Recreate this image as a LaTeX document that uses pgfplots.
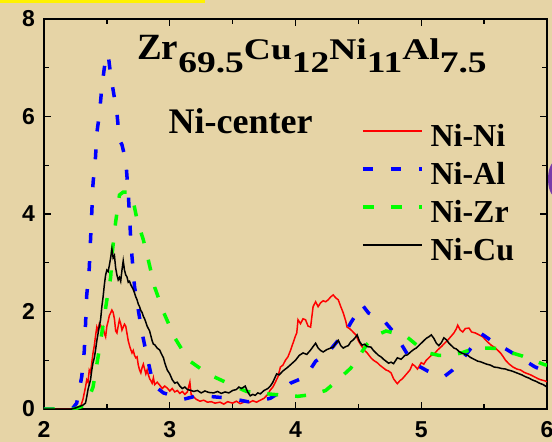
\documentclass[border=0pt]{standalone}
\usepackage{fontspec}
\setmainfont{Liberation Serif}
\setsansfont{Liberation Sans}
\usepackage{pgfplots}
\pgfplotsset{compat=1.18}
\definecolor{parch}{RGB}{230,212,166}
\definecolor{nired}{RGB}{255,0,0}
\definecolor{niblue}{RGB}{0,0,255}
\definecolor{nigreen}{RGB}{0,255,0}
\definecolor{blob}{RGB}{120,60,170}

\pgfplotstableread{
x y
2.00 0
2.26 0
2.29 0.04
2.31 0.2
2.33 0.45
2.34 0.6
2.35 0.55
2.36 0.8
2.37 0.75
2.38 0.95
2.39 1.15
2.40 1.3
2.41 1.5
2.42 1.68
2.43 1.6
2.44 1.75
2.45 1.72
2.46 1.62
2.47 1.68
2.48 1.55
2.49 1.48
2.50 1.7
2.51 1.8
2.52 1.92
2.53 1.97
2.54 2.03
2.55 1.98
2.56 1.85
2.57 1.6
2.58 1.56
2.59 1.7
2.60 1.83
2.61 1.75
2.62 1.62
2.63 1.68
2.64 1.74
2.65 1.7
2.66 1.55
2.67 1.4
2.68 1.3
2.69 1.22
2.70 1.15
2.71 1.2
2.72 1.1
2.73 1.05
2.74 1.07
2.75 0.9
2.76 0.8
2.77 0.74
2.78 0.85
2.79 0.92
2.80 0.82
2.81 0.72
2.82 0.8
2.83 0.7
2.84 0.62
2.85 0.58
2.86 0.53
2.87 0.64
2.88 0.5
2.90 0.55
2.92 0.49
2.94 0.42
2.96 0.47
2.98 0.43
3.00 0.37
3.02 0.42
3.04 0.35
3.06 0.38
3.08 0.32
3.10 0.36
3.12 0.3
3.14 0.35
3.16 0.55
3.17 0.3
3.19 0.25
3.21 0.2
3.24 0.16
3.27 0.18
3.30 0.14
3.33 0.15
3.36 0.12
3.40 0.14
3.43 0.1
3.46 0.15
3.50 0.12
3.53 0.16
3.56 0.11
3.60 0.15
3.63 0.13
3.66 0.17
3.69 0.14
3.72 0.18
3.75 0.22
3.78 0.3
3.80 0.39
3.82 0.45
3.84 0.55
3.86 0.66
3.88 0.86
3.90 0.9
3.92 1.0
3.94 1.07
3.96 1.2
3.98 1.35
4.00 1.5
4.01 1.56
4.02 1.83
4.04 1.75
4.06 1.85
4.08 1.83
4.10 1.7
4.12 1.68
4.14 2.1
4.16 2.2
4.18 2.1
4.20 2.18
4.22 2.22
4.24 2.2
4.26 2.24
4.28 2.3
4.30 2.34
4.32 2.28
4.34 2.24
4.36 2.1
4.38 1.97
4.40 1.8
4.41 1.68
4.43 1.65
4.45 1.6
4.48 1.52
4.50 1.4
4.52 1.31
4.55 1.2
4.57 1.15
4.60 1.05
4.62 1.0
4.65 0.95
4.67 0.9
4.69 0.86
4.72 0.8
4.74 0.78
4.76 0.74
4.78 0.62
4.80 0.55
4.81 0.52
4.83 0.58
4.85 0.62
4.87 0.68
4.89 0.74
4.91 0.8
4.93 0.92
4.95 0.88
4.97 0.82
5.00 0.95
5.02 0.92
5.04 1.0
5.06 1.05
5.08 1.1
5.10 1.12
5.13 1.21
5.16 1.28
5.19 1.36
5.21 1.41
5.24 1.5
5.26 1.56
5.28 1.65
5.29 1.72
5.31 1.62
5.33 1.58
5.35 1.65
5.38 1.66
5.40 1.58
5.43 1.56
5.46 1.52
5.49 1.48
5.51 1.42
5.53 1.37
5.56 1.3
5.58 1.27
5.61 1.2
5.63 1.15
5.65 1.08
5.67 1.0
5.70 0.92
5.73 0.86
5.76 0.82
5.79 0.8
5.82 0.75
5.85 0.72
5.87 0.7
5.90 0.66
5.93 0.62
5.95 0.6
5.98 0.58
6.00 0.56
}\niNi

\pgfplotstableread{
x y
2.00 0
2.20 0
2.23 0.02
2.26 0.12
2.30 0.66
2.32 1.18
2.33 1.72
2.34 2.34
2.36 2.89
2.37 3.47
2.38 4.03
2.39 4.63
2.41 5.18
2.42 5.66
2.44 6.03
2.46 6.6
2.49 7.2
2.51 7.28
2.53 6.85
2.55 6.54
2.58 6.07
2.60 5.52
2.62 5.42
2.65 5.1
2.67 4.43
2.68 3.96
2.69 3.47
2.70 3.12
2.72 2.51
2.75 2.03
2.78 1.56
2.82 1.07
2.87 0.49
2.95 0.33
3.11 0.2
3.23 0.28
3.35 0.25
3.48 0.22
3.62 0.15
3.70 0.16
3.80 0.22
3.88 0.35
3.96 0.53
4.08 0.66
4.16 0.98
4.25 1.13
4.33 1.38
4.39 1.54
4.44 1.77
4.53 2.14
4.58 1.97
4.65 1.88
4.71 1.79
4.79 1.55
4.86 1.25
4.90 1.08
4.98 0.88
5.05 0.78
5.12 0.7
5.18 0.66
5.25 0.8
5.31 0.96
5.39 1.23
5.48 1.54
5.57 1.38
5.68 1.22
5.79 1.05
5.90 0.87
6.00 0.75
}\niAl

\pgfplotstableread{
x y
2.00 0
2.24 0
2.30 0.05
2.36 0.25
2.39 0.45
2.43 1.07
2.46 1.56
2.50 2.24
2.53 2.7
2.545 3.26
2.57 3.84
2.60 4.39
2.63 4.45
2.66 4.45
2.70 4.39
2.74 3.88
2.79 3.47
2.83 3.05
2.88 2.5
2.95 1.99
3.04 1.46
3.15 1.0
3.31 0.71
3.47 0.52
3.61 0.36
3.82 0.3
4.02 0.26
4.14 0.3
4.24 0.38
4.34 0.6
4.44 0.84
4.57 1.33
4.65 1.52
4.72 1.6
4.80 1.55
4.89 1.47
4.97 1.3
5.04 1.16
5.14 1.1
5.24 1.1
5.33 1.16
5.42 1.24
5.52 1.25
5.62 1.24
5.71 1.16
5.80 1.09
5.89 1.0
5.98 0.91
6.00 0.9
}\niZr

\pgfplotstableread{
x y
2.00 0
2.22 0
2.25 0.02
2.28 0.05
2.31 0.08
2.33 0.12
2.34 0.25
2.35 0.4
2.36 0.5
2.37 0.6
2.38 0.8
2.39 0.95
2.40 1.05
2.41 1.21
2.42 1.4
2.43 1.55
2.44 1.7
2.45 1.83
2.46 2.1
2.47 2.3
2.48 2.55
2.49 2.75
2.50 2.85
2.51 2.82
2.52 2.95
2.53 3.1
2.54 3.28
2.55 3.1
2.56 3.15
2.57 2.89
2.58 2.75
2.59 2.65
2.60 2.7
2.61 2.62
2.62 2.85
2.63 3.04
2.64 2.85
2.65 2.75
2.66 2.71
2.67 2.6
2.68 2.62
2.69 2.55
2.70 2.5
2.71 2.45
2.72 2.38
2.73 2.3
2.74 2.24
2.75 2.15
2.76 2.1
2.77 2.02
2.78 1.98
2.79 1.9
2.80 1.85
2.81 1.78
2.82 1.7
2.83 1.65
2.84 1.6
2.85 1.5
2.86 1.4
2.87 1.33
2.88 1.32
2.90 1.25
2.92 1.21
2.93 1.15
2.94 1.1
2.95 1.05
2.96 0.95
2.98 0.8
3.00 0.72
3.02 0.6
3.04 0.53
3.06 0.55
3.08 0.47
3.10 0.42
3.12 0.45
3.14 0.4
3.17 0.38
3.19 0.36
3.22 0.38
3.25 0.33
3.28 0.37
3.31 0.34
3.35 0.33
3.38 0.36
3.41 0.32
3.44 0.35
3.47 0.33
3.50 0.38
3.53 0.4
3.55 0.45
3.57 0.42
3.60 0.47
3.62 0.35
3.64 0.27
3.66 0.3
3.68 0.28
3.70 0.33
3.72 0.31
3.75 0.38
3.78 0.42
3.80 0.47
3.82 0.55
3.85 0.72
3.87 0.7
3.90 0.78
3.94 0.86
3.97 0.93
4.00 1.0
4.03 1.1
4.06 1.15
4.09 1.12
4.12 1.21
4.14 1.28
4.16 1.35
4.18 1.25
4.20 1.2
4.22 1.17
4.25 1.22
4.28 1.25
4.30 1.27
4.32 1.35
4.34 1.41
4.36 1.3
4.38 1.25
4.40 1.28
4.42 1.3
4.44 1.38
4.46 1.42
4.48 1.48
4.49 1.52
4.51 1.38
4.53 1.31
4.55 1.33
4.57 1.28
4.60 1.27
4.62 1.2
4.64 1.15
4.66 1.1
4.68 1.07
4.70 1.02
4.72 0.98
4.74 0.94
4.76 0.96
4.78 0.93
4.81 1.05
4.84 1.02
4.87 1.1
4.89 1.11
4.92 1.18
4.94 1.22
4.96 1.25
4.98 1.3
5.00 1.35
5.02 1.4
5.04 1.45
5.06 1.48
5.08 1.52
5.10 1.45
5.12 1.35
5.14 1.3
5.16 1.36
5.18 1.46
5.20 1.42
5.22 1.35
5.24 1.3
5.26 1.25
5.28 1.23
5.30 1.18
5.32 1.15
5.35 1.12
5.37 1.1
5.39 1.06
5.42 1.02
5.45 0.98
5.47 0.97
5.50 0.94
5.52 0.92
5.55 0.9
5.58 0.86
5.61 0.85
5.64 0.83
5.67 0.82
5.69 0.8
5.72 0.78
5.75 0.75
5.78 0.72
5.80 0.7
5.83 0.66
5.86 0.63
5.88 0.6
5.91 0.57
5.94 0.53
5.97 0.5
6.00 0.45
}\niCu

\begin{document}
\begin{tikzpicture}
\useasboundingbox (-44pt,-33pt) rectangle (508pt,409pt);
\fill[parch] (-44pt,-33pt) rectangle (508pt,409pt);
\fill[yellow] (-44pt,406pt) rectangle (161pt,409pt);
\fill[blob] (512pt,230pt) ellipse (8pt and 18pt);
\begin{axis}[
  at={(0pt,0pt)}, anchor=south west,
  scale only axis, width=503pt, height=390pt,
  xmin=2, xmax=6, ymin=0, ymax=8,
  xtick={2,3,4,5,6}, minor xtick={2.5,3.5,4.5,5.5},
  ytick={0,2,4,6,8}, minor ytick={1,3,5,7},
  tick align=inside, tick pos=both,
  major tick length=7pt, minor tick length=5pt,
  every tick/.style={black, line width=1.4pt},
  axis line style={black, line width=1.6pt},
  /pgf/number format/assume math mode=true,
  xticklabel style={font=\fontsize{23}{23}\selectfont\sffamily\bfseries, inner sep=0pt, anchor=north, yshift=-12pt},
  yticklabel style={font=\fontsize{23}{23}\selectfont\sffamily\bfseries, inner sep=0pt, anchor=east, xshift=-9pt},
  legend image code/.code={\draw[#1] (0pt,8pt) -- (59pt,8pt);},
  legend style={at={(axis cs:4.52,5.85)}, anchor=north west, draw=none, fill=none,
    font=\fontsize{32}{32}\selectfont\bfseries, row sep=8pt, inner sep=0pt,
    nodes={inner sep=0pt, text height=22pt, text depth=8pt},
    /tikz/every odd column/.append style={column sep=7pt}},
  legend cell align=left,
]
\addplot[nired, line width=1.5pt] table[x=x,y=y] {\niNi};
\addlegendentry{Ni-Ni}
\addplot[niblue, line width=3.5pt, dash pattern=on 10pt off 18pt] table[x=x,y=y] {\niAl};
\addlegendentry{Ni-Al}
\addplot[nigreen, line width=3.5pt, dash pattern=on 11pt off 17pt] table[x=x,y=y] {\niZr};
\addlegendentry{Ni-Zr}
\addplot[black, line width=1.5pt] table[x=x,y=y] {\niCu};
\addlegendentry{Ni-Cu}
\node[anchor=base west, inner sep=0pt, font=\bfseries] at (axis cs:2.74,7.16)
  {\fontsize{37}{37}\selectfont Zr\scalebox{1.25}[1]{\raisebox{-13pt}{\fontsize{30}{30}\selectfont 69.5}\fontsize{30}{30}\selectfont Cu\raisebox{-13pt}{\fontsize{30}{30}\selectfont 12}\fontsize{30}{30}\selectfont Ni\raisebox{-13pt}{\fontsize{30}{30}\selectfont 11}\fontsize{30}{30}\selectfont Al\raisebox{-13pt}{\fontsize{30}{30}\selectfont 7.5}}};
\node[anchor=base west, inner sep=0pt, font=\bfseries\fontsize{36}{36}\selectfont] at (axis cs:2.99,5.66) {Ni-center};
\end{axis}
\end{tikzpicture}
\end{document}
